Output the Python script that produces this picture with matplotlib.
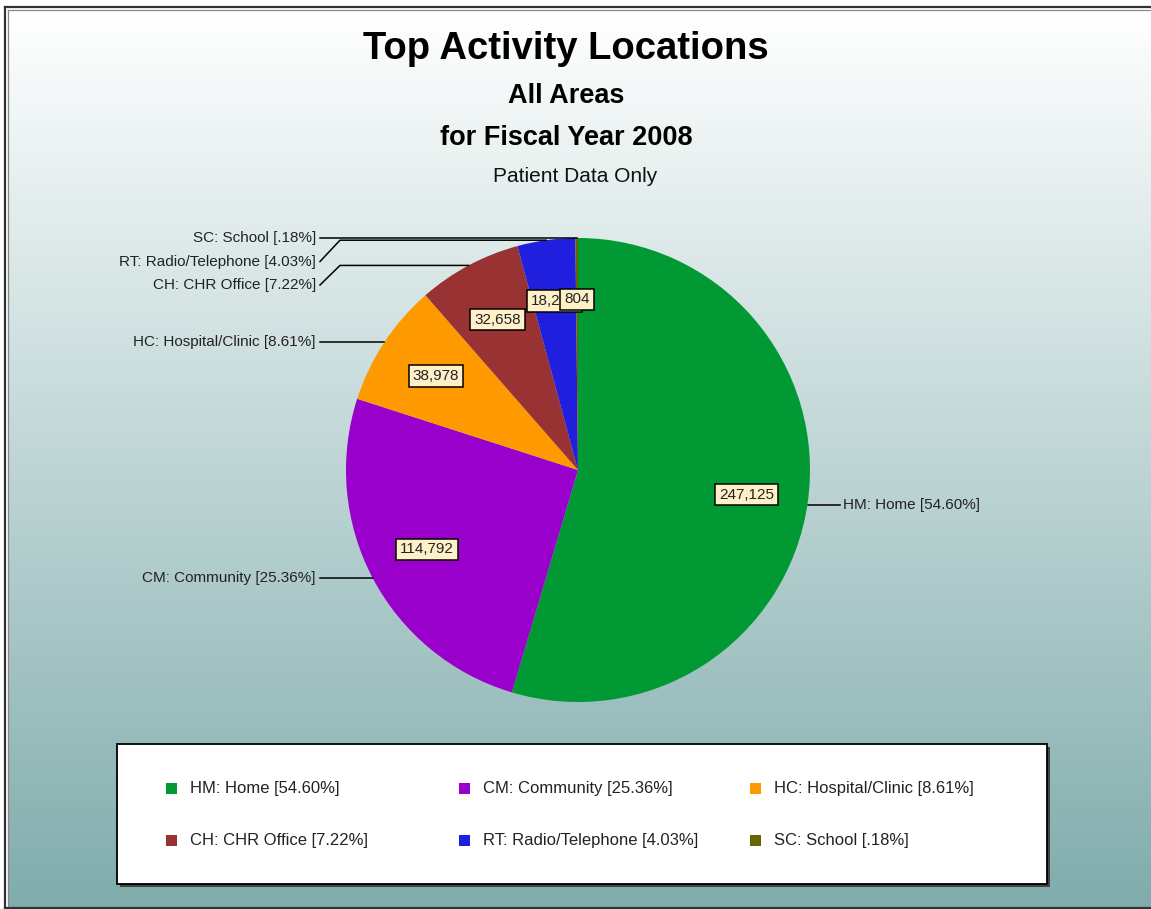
import matplotlib
matplotlib.use("Agg")
import matplotlib.pyplot as plt
from matplotlib.patches import Rectangle
import numpy as np

plt.rcParams["font.family"] = ["Liberation Sans", "DejaVu Sans"]

# data
names = ["HM: Home", "CM: Community", "HC: Hospital/Clinic",
         "CH: CHR Office", "RT: Radio/Telephone", "SC: School"]
pcts = ["54.60%", "25.36%", "8.61%", "7.22%", "4.03%", ".18%"]
values = [247125, 114792, 38978, 32658, 18245, 804]
colors = ["#009933", "#9900CC", "#FF9900", "#993333", "#1F1FDD", "#666600"]

W, H = 1151, 909
fig = plt.figure(figsize=(W / 100, H / 100), dpi=100)
ax = fig.add_axes([0, 0, 1, 1])

# background gradient (pixel coords, y up)
top = np.array([255, 255, 255]) / 255
bot = np.array([128, 172, 172]) / 255
t = np.linspace(0, 1, 256)[:, None]
grad = (top * (1 - t) + bot * t)[:, None, :]
ax.imshow(grad, extent=[9, W, 1, H - 10], aspect="auto", zorder=0,
          interpolation="bilinear")

# frame lines
ax.plot([5, W], [H - 6.5, H - 6.5], color="#333333", lw=1.6, zorder=1)
ax.plot([8.5, W], [H - 9.5, H - 9.5], color="#888888", lw=0.9, zorder=1)
ax.plot([5.5, 5.5], [0, H - 6.5], color="#333333", lw=1.6, zorder=1)
ax.plot([8.5, 8.5], [1, H - 9.5], color="#888888", lw=0.9, zorder=1)
ax.plot([5, W], [1, 1], color="#333333", lw=1.6, zorder=1)

# pie
cx, cy, R = 578, H - 470, 232
wedges, _ = ax.pie(values, colors=colors, startangle=90, counterclock=False,
                   center=(cx, cy), radius=R, frame=True,
                   wedgeprops=dict(linewidth=0))
for w in wedges:
    w.set_zorder(3)

ax.set_xlim(0, W)
ax.set_ylim(0, H)
ax.set_axis_off()

# value boxes
for w, v in zip(wedges, values):
    mid = np.deg2rad((w.theta1 + w.theta2) / 2)
    x = cx + 0.735 * R * np.cos(mid)
    y = cy + 0.735 * R * np.sin(mid)
    ax.text(x, y, f"{v:,}", ha="center", va="center", fontsize=11,
            color="#222222", zorder=5,
            bbox=dict(boxstyle="square,pad=0.25", fc="#FFF0C8", ec="black", lw=1.1))

# outer labels with leader lines
anchors = []
for w in wedges:
    mid = np.deg2rad((w.theta1 + w.theta2) / 2)
    anchors.append((cx + R * np.cos(mid), cy + R * np.sin(mid)))

left = [i for i in range(len(values)) if anchors[i][0] < cx]
left.sort(key=lambda i: -anchors[i][1])
label_y = {}
prev = None
for i in left:
    y = anchors[i][1]
    if prev is not None and y > prev - 23.5:
        y = prev - 23.5
    label_y[i] = y
    prev = y

for i, (name, p) in enumerate(zip(names, pcts)):
    ax_, ay_ = anchors[i]
    txt = f"{name} [{p}]"
    if i in label_y:
        ly = label_y[i]
        ax.plot([320, 340, ax_], [ly, ay_, ay_], color="black", lw=1.1, zorder=4)
        ax.text(316, ly, txt, ha="right", va="center", fontsize=11,
                color="#222222", zorder=4)
    else:
        ax.plot([ax_, 840], [ay_ - 2, ay_ - 2], color="black", lw=1.1, zorder=2)
        ax.text(843, ay_ - 2, txt, ha="left", va="center", fontsize=11,
                color="#222222", zorder=4)

# titles
ax.text(566, H - 49, "Top Activity Locations", ha="center", va="center",
        fontsize=27.5, fontweight="bold", color="black", zorder=4)
ax.text(566, H - 96, "All Areas", ha="center", va="center",
        fontsize=19.5, fontweight="bold", color="black", zorder=4)
ax.text(566, H - 138, "for Fiscal Year 2008", ha="center", va="center",
        fontsize=19.5, fontweight="bold", color="black", zorder=4)
ax.text(575, H - 176, "Patient Data Only", ha="center", va="center",
        fontsize=15, color="#111111", zorder=4)

# legend box
lx0, lx1, ly0, ly1 = 117, 1047, H - 884, H - 744
ax.add_patch(Rectangle((lx0 + 3, ly0 - 3), lx1 - lx0, ly1 - ly0,
                       fc="#444444", ec="none", zorder=5))
ax.add_patch(Rectangle((lx0, ly0), lx1 - lx0, ly1 - ly0,
                       fc="white", ec="black", lw=1.3, zorder=6))
col_x = [166, 459, 750]
row_y = [H - 788, H - 840]
for i, (name, p, c) in enumerate(zip(names, pcts, colors)):
    mx = col_x[i % 3]
    my = row_y[i // 3]
    ax.add_patch(Rectangle((mx, my - 5.5), 11, 11, fc=c, ec="none", zorder=7))
    ax.text(mx + 24, my, f"{name} [{p}]", ha="left", va="center",
            fontsize=12, color="#222222", zorder=7)

fig.savefig("out.png", dpi=100)
